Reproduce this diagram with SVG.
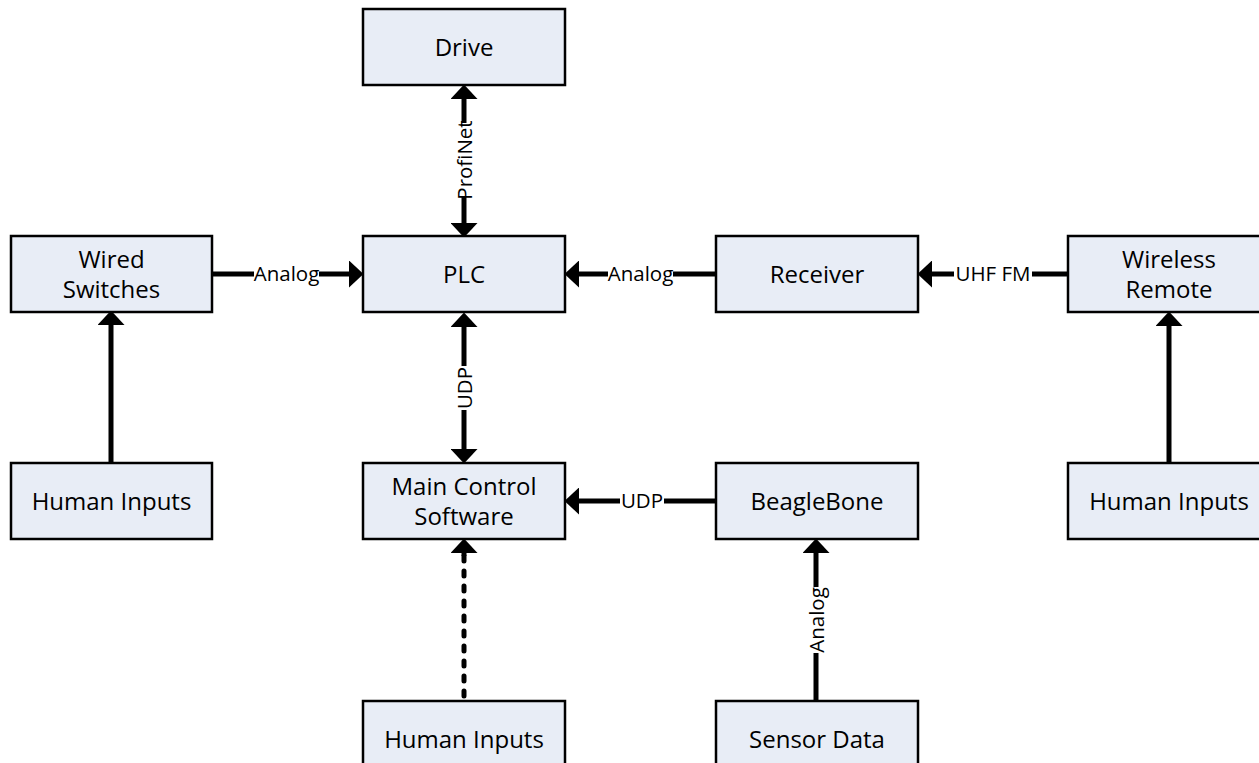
<svg xmlns="http://www.w3.org/2000/svg" width="1259" height="763" viewBox="0 0 1259 763">
<style>
.box{fill:#e8edf6;stroke:#000;stroke-width:2.5}
.bt{font-family:"Open Sans","Liberation Sans",sans-serif;font-size:24px;fill:#000;text-anchor:middle}
.ln{stroke:#000;stroke-width:5;fill:none}
.dot{stroke:#000;stroke-width:5;fill:none;stroke-dasharray:5 10;stroke-linecap:round}
.lb{font-family:"Open Sans","Liberation Sans",sans-serif;font-size:20.5px;fill:#000;text-anchor:middle;dominant-baseline:central}
.bg{fill:#fff}
</style>
<defs>
<marker id="ah" markerUnits="userSpaceOnUse" markerWidth="15" markerHeight="27" viewBox="0 0 15 27" refX="0" refY="13.5" orient="auto-start-reverse">
<path d="M0,0 L14.5,13.5 L0,27 z" fill="#000"/>
</marker>
</defs>
<rect width="1259" height="763" fill="#fff"/>

<g id="connectors">
<line class="ln" x1="464" y1="99" x2="464" y2="223" marker-start="url(#ah)" marker-end="url(#ah)"/>
<line class="ln" x1="212" y1="274" x2="349" y2="274" marker-end="url(#ah)"/>
<line class="ln" x1="716" y1="274" x2="579" y2="274" marker-end="url(#ah)"/>
<line class="ln" x1="1068" y1="274" x2="932" y2="274" marker-end="url(#ah)"/>
<line class="ln" x1="111" y1="463" x2="111" y2="325" marker-end="url(#ah)"/>
<line class="ln" x1="1169" y1="463" x2="1169" y2="326" marker-end="url(#ah)"/>
<line class="ln" x1="464" y1="327" x2="464" y2="449" marker-start="url(#ah)" marker-end="url(#ah)"/>
<line class="ln" x1="716" y1="501" x2="579" y2="501" marker-end="url(#ah)"/>
<line class="dot" x1="464" y1="696" x2="464" y2="556"/>
<line class="ln" x1="464" y1="556" x2="464" y2="553" marker-end="url(#ah)"/>
<line class="ln" x1="816" y1="701" x2="816" y2="553" marker-end="url(#ah)"/>

<rect class="bg" x="452" y="123" width="24" height="74"/>
<text class="lb" transform="translate(464,160) rotate(-90)">ProfiNet</text>
<rect class="bg" x="254" y="263" width="65" height="22"/>
<text class="lb" x="286.5" y="273">Analog</text>
<rect class="bg" x="608" y="263" width="65" height="22"/>
<text class="lb" x="640.5" y="273">Analog</text>
<rect class="bg" x="954" y="263" width="78" height="22"/>
<text class="lb" x="993" y="273">UHF FM</text>
<rect class="bg" x="452" y="366" width="24" height="44"/>
<text class="lb" transform="translate(464,388) rotate(-90)">UDP</text>
<rect class="bg" x="620" y="490" width="44" height="22"/>
<text class="lb" x="642" y="500">UDP</text>
<rect class="bg" x="804" y="587" width="24" height="66"/>
<text class="lb" transform="translate(816,620) rotate(-90)">Analog</text>
</g>

<g id="drive"><rect class="box" x="363" y="9" width="202" height="76"/><text class="bt" x="464" y="56">Drive</text></g>
<g id="plc"><rect class="box" x="363" y="236" width="202" height="76"/><text class="bt" x="464" y="283">PLC</text></g>
<g id="wired-switches"><rect class="box" x="11" y="236" width="201" height="76"/><text class="bt" x="111.5" y="268">Wired</text><text class="bt" x="111.5" y="298">Switches</text></g>
<g id="receiver"><rect class="box" x="716" y="236" width="202" height="76"/><text class="bt" x="817" y="283">Receiver</text></g>
<g id="wireless-remote"><rect class="box" x="1068" y="236" width="202" height="76"/><text class="bt" x="1169" y="268">Wireless</text><text class="bt" x="1169" y="298">Remote</text></g>
<g id="human-inputs-left"><rect class="box" x="11" y="463" width="201" height="76"/><text class="bt" x="111.5" y="510">Human Inputs</text></g>
<g id="main-control"><rect class="box" x="363" y="463" width="202" height="76"/><text class="bt" x="464" y="495">Main Control</text><text class="bt" x="464" y="525">Software</text></g>
<g id="beaglebone"><rect class="box" x="716" y="463" width="202" height="76"/><text class="bt" x="817" y="510">BeagleBone</text></g>
<g id="human-inputs-right"><rect class="box" x="1068" y="463" width="202" height="76"/><text class="bt" x="1169" y="510">Human Inputs</text></g>
<g id="human-inputs-bottom"><rect class="box" x="363" y="701" width="202" height="76"/><text class="bt" x="464" y="748">Human Inputs</text></g>
<g id="sensor-data"><rect class="box" x="716" y="701" width="202" height="76"/><text class="bt" x="817" y="748">Sensor Data</text></g>
</svg>
